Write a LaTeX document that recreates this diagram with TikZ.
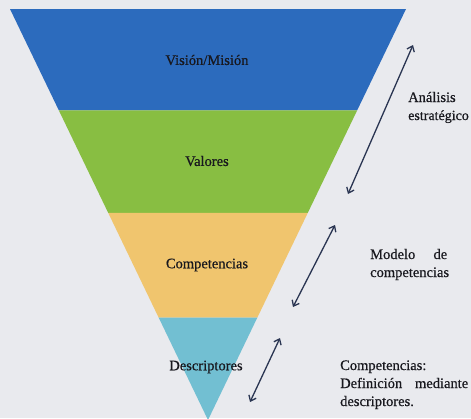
\documentclass[tikz,border=0pt]{standalone}
\usepackage{fontspec}
\setmainfont{Liberation Serif}
\newfontfamily\scanfont{Liberation Serif}[FakeBold=0.6]
\usetikzlibrary{calc,arrows.meta}
\definecolor{bgc}{HTML}{E9EAEE}
\definecolor{bandblue}{HTML}{2C6BBD}
\definecolor{bandgreen}{HTML}{88BE42}
\definecolor{bandyell}{HTML}{BAD53C}
\definecolor{bandorange}{HTML}{F0C56E}
\definecolor{bandlblue}{HTML}{72BFD2}
\definecolor{arrowc}{HTML}{2A3552}
\definecolor{txtc}{HTML}{18181E}
\tikzset{
  bandlabel/.style={font=\scanfont\fontsize{14.5}{17}\selectfont, text=txtc, inner sep=0pt, anchor=center},
  sidetext/.style={font=\scanfont\fontsize{14.5}{18}\selectfont, text=txtc, inner sep=0pt, anchor=base west},
  dblarrow/.style={arrowc, line width=1.3pt, {Straight Barb[length=5pt,width=8pt]}-{Straight Barb[length=5pt,width=8pt]}}
}
\begin{document}
\begin{tikzpicture}[x=1pt,y=-1pt]
\useasboundingbox (0,0) rectangle (471,418);
\fill[bgc] (0,0) rectangle (471,418);
% triangle corners
\coordinate (TL) at (10,9);
\coordinate (TR) at (406,9);
\coordinate (AP) at (208,420);
% band boundaries
\coordinate (L1) at ($(TL)!0.2469!(AP)$);
\coordinate (R1) at ($(TR)!0.2469!(AP)$);
\coordinate (L2) at ($(TL)!0.4963!(AP)$);
\coordinate (R2) at ($(TR)!0.4963!(AP)$);
\coordinate (L3) at ($(TL)!0.7506!(AP)$);
\coordinate (R3) at ($(TR)!0.7506!(AP)$);
% bands
\fill[bandblue] (TL) -- (TR) -- (R1) -- (L1) -- cycle;
\shade[top color=bandgreen, middle color=bandyell, bottom color=bandgreen] (L1) -- (R1) -- (R2) -- (L2) -- cycle;
\fill[bandorange] (L2) -- (R2) -- (R3) -- (L3) -- cycle;
\fill[bandlblue] (L3) -- (R3) -- (AP) -- cycle;
% band labels
\node[bandlabel] (vm) at (207,60) {Visión/Misión};
\node[bandlabel] (val) at (207,161) {Valores};
\node[bandlabel] (comp) at (207,265) {Competencias};
\node[bandlabel] (desc) at (206,367) {Descriptores};
% side texts
\node[sidetext] (an1) at (408,102) {Análisis};
\node[sidetext] (an2) at (408,120) {\fontsize{14}{18}\selectfont estratégico};
\node[sidetext] (mo1) at (370,259) {\makebox[77pt][l]{Modelo\hfill de}};
\node[sidetext] (mo2) at (370,277) {competencias};
\node[sidetext] (de1) at (340,370) {Competencias:};
\node[sidetext] (de2) at (340,388) {\makebox[128pt][l]{Definición\hfill mediante}};
\node[sidetext] (de3) at (340,406) {descriptores.};
% arrows
\coordinate (a1s) at (413,45);
\coordinate (a1e) at (348,194);
\coordinate (a2s) at (335,225);
\coordinate (a2e) at (293,307);
\coordinate (a3s) at (280,338);
\coordinate (a3e) at (250,402);
\draw[dblarrow] (a1s) -- (a1e);
\draw[dblarrow] (a2s) -- (a2e);
\draw[dblarrow] (a3s) -- (a3e);
\end{tikzpicture}
\end{document}
